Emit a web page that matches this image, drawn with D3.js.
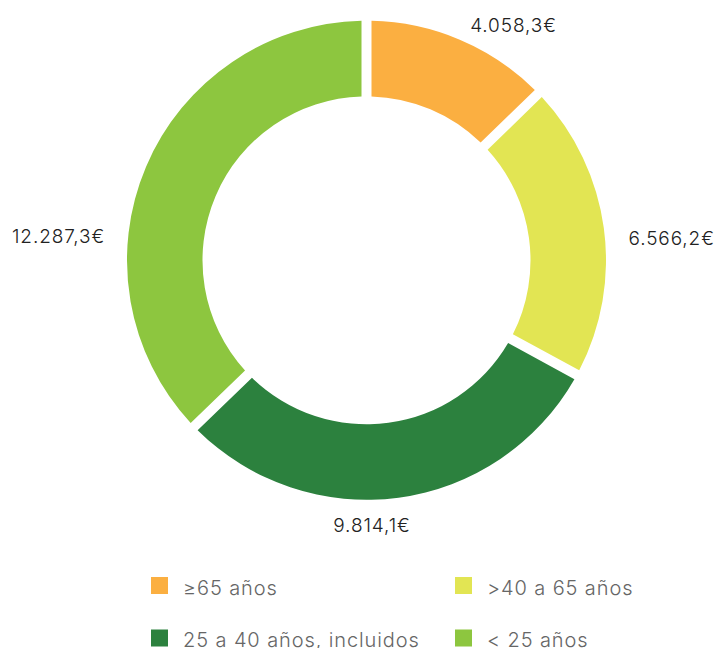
<!DOCTYPE html>
<html>
<head>
<meta charset="utf-8">
<script src="https://cdn.jsdelivr.net/npm/d3@7"></script>
<style>
  html, body { margin: 0; padding: 0; background: #fff; }
  svg { display: block; }
</style>
</head>
<body>
<div id="chart"></div>
<script>
// data
const groups = ["≥65 años", ">40 a 65 años", "25 a 40 años, incluidos", "< 25 años"]
const amounts = [4058.3, 6566.2, 9814.1, 12287.3]
const valueLabels = ["4.058,3€", "6.566,2€", "9.814,1€", "12.287,3€"]
const colors = ["#fbaf41", "#e2e553", "#2c813e", "#8dc63f"]

const width = 721, height = 648
const cx = 366.5, cy = 260.3
const outerR = 239.5, innerR = 164
const gap = 10
const font = "Inter, 'Open Sans', sans-serif"

// where each value label sits (text centre x, baseline y)
const labelAt = [[513.5, 31.7], [671.7, 245], [372, 531.7], [58.6, 242.7]]

const svg = d3.select("#chart").append("svg")
  .attr("width", width)
  .attr("height", height)

const pie = d3.pie()
  .sort(null)
  .value(d => d.value)
  .padAngle(gap / outerR)

const arc = d3.arc()
  .innerRadius(innerR)
  .outerRadius(outerR)
  .padRadius(outerR)

const rows = groups.map((g, i) => ({ group: g, value: amounts[i], label: valueLabels[i], color: colors[i] }))

const donut = svg.append("g")
  .attr("transform", `translate(${cx},${cy})`)

donut.selectAll("path.slice")
  .data(pie(rows))
  .enter()
  .append("path")
  .attr("class", "slice")
  .attr("d", arc)
  .attr("fill", d => d.data.color)

svg.append("g")
  .attr("class", "value-labels")
  .selectAll("text")
  .data(rows)
  .enter()
  .append("text")
  .attr("x", (d, i) => labelAt[i][0])
  .attr("y", (d, i) => labelAt[i][1])
  .attr("text-anchor", "middle")
  .attr("font-family", font)
  .attr("font-size", 19)
  .attr("font-weight", 300)
  .attr("letter-spacing", 0.9)
  .attr("fill", "#222")
  .text(d => d.label)

// legend, two columns
const legend = svg.append("g").attr("class", "legend")
const colX = [151, 455], rowY = [577, 629.5], sw = 17

legend.selectAll("g.item")
  .data(rows)
  .enter()
  .append("g")
  .attr("class", "item")
  .attr("transform", (d, i) => `translate(${colX[i % 2]},${rowY[Math.floor(i / 2)]})`)
  .each(function(d) {
    const g = d3.select(this)
    g.append("rect")
      .attr("width", sw)
      .attr("height", sw)
      .attr("fill", d.color)
    g.append("text")
      .attr("x", 32)
      .attr("y", 17.5)
      .attr("font-family", font)
      .attr("font-size", 20)
      .attr("font-weight", 300)
      .attr("letter-spacing", 0.9)
      .attr("fill", "#666")
      .text(d.group)
  })
</script>
</body>
</html>
